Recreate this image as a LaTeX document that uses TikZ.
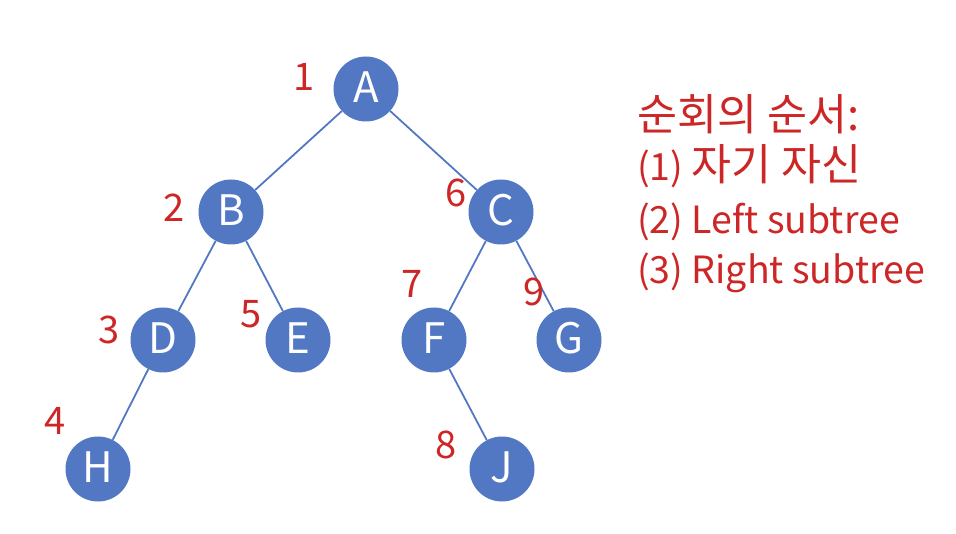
\documentclass[tikz,border=0pt]{standalone}
\usepackage{fontspec}
\setmainfont{Noto Sans CJK KR}
\definecolor{nodeblue}{RGB}{82,120,196}
\definecolor{labred}{RGB}{205,38,38}
\newcommand{\kofont}{\fontsize{43.5}{43.5}\selectfont}
\begin{document}
\begin{tikzpicture}[x=1pt,y=-1pt,
  tnode/.style={circle,fill=nodeblue,minimum size=65pt,inner sep=0pt,text=white,
    text height=27.5pt,text depth=0pt,font=\fontsize{42}{42}\selectfont},
  edge/.style={draw=nodeblue,line width=1.8pt},
  ordlab/.style={text=labred,inner sep=0pt,font=\fontsize{38}{38}\selectfont},
  legend/.style={text=labred,anchor=base west,inner sep=0pt,font=\fontsize{37.5}{37.5}\selectfont}]
\useasboundingbox (0,0) rectangle (956,534);
% tree nodes
\node[tnode] (A) at (366,89) {A};
\node[tnode] (B) at (231,212) {B};
\node[tnode] (C) at (501,212) {C};
\node[tnode] (D) at (163,340) {D};
\node[tnode] (E) at (298,340) {E};
\node[tnode] (F) at (434,340) {F};
\node[tnode] (G) at (569,340) {G};
\node[tnode] (H) at (98,469) {H};
\node[tnode] (J) at (502,469) {J};
% edges
\draw[edge] (A) -- (B);
\draw[edge] (A) -- (C);
\draw[edge] (B) -- (D);
\draw[edge] (B) -- (E);
\draw[edge] (C) -- (F);
\draw[edge] (C) -- (G);
\draw[edge] (D) -- (H);
\draw[edge] (F) -- (J);
% visit order labels
\node[ordlab] (n1) at (304,77) {1};
\node[ordlab] (n2) at (174,208) {2};
\node[ordlab] (n3) at (109,330) {3};
\node[ordlab] (n4) at (55,421) {4};
\node[ordlab] (n5) at (251,314) {5};
\node[ordlab] (n6) at (456,193) {6};
\node[ordlab] (n7) at (412,284) {7};
\node[ordlab] (n8) at (446,445) {8};
\node[ordlab] (n9) at (534,292) {9};
% legend
\node[legend] (l1) at (637,131) {{\kofont 순회의 순서:}};
\node[legend] (l2) at (637,181) {(1) {\kofont 자기 자신}};
\node[legend] (l3) at (637,233.5) {(2) Left subtree};
\node[legend] (l4) at (637,284) {(3) Right subtree};
\end{tikzpicture}
\end{document}
